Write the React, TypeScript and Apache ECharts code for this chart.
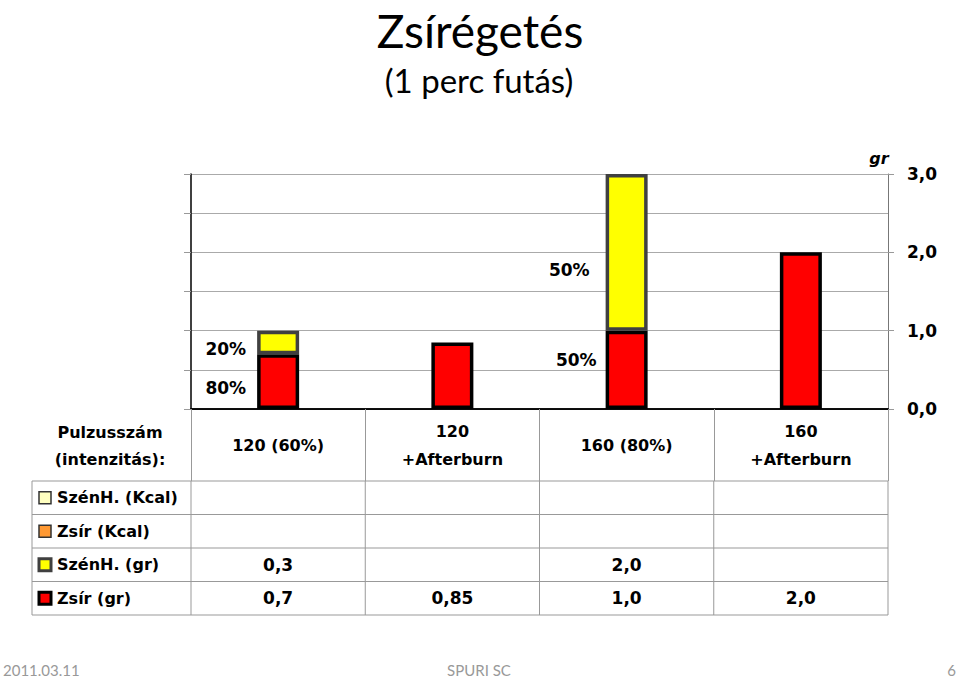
import React, { useEffect, useRef } from 'react';
import * as echarts from 'echarts';

const categories = ['120 (60%)', '120\n+Afterburn', '160 (80%)', '160\n+Afterburn'];
const carbKcal: (number | null)[] = [null, null, null, null];
const fatKcal: (number | null)[] = [null, null, null, null];
const carbGr: (number | null)[] = [0.3, null, 2.0, null];
const fatGr: (number | null)[] = [0.7, 0.85, 1.0, 2.0];
const rowLabels = ['SzénH. (Kcal)', 'Zsír (Kcal)', 'SzénH. (gr)', 'Zsír (gr)'];
const yMin = 0;
const yMax = 3;
const annotations = [
  { cat: 0, value: 0.77, text: '20%', dx: -32 },
  { cat: 0, value: 0.27, text: '80%', dx: -32 },
  { cat: 2, value: 1.78, text: '50%', dx: -37 },
  { cat: 2, value: 0.63, text: '50%', dx: -30 },
];

const FONT = '"DejaVu Sans", sans-serif';
const fmt = (v: number | null) => {
  if (v === null || v === undefined) return '';
  const s = Number.isInteger(v * 10) ? v.toFixed(1) : String(v);
  return s.replace('.', ',');
};

export default function App() {
  const ref = useRef<HTMLDivElement>(null);
  useEffect(() => {
    const chart = echarts.init(ref.current!, undefined, { renderer: 'svg' });
    const gridLeft = 191;
    const gridRight = 888;
    const gridTop = 174;
    const gridBottom = 409;
    const option: any = {
      animation: false,
      grid: { left: gridLeft, right: 959 - gridRight, top: gridTop, bottom: 678 - gridBottom, containLabel: false },
      xAxis: [
        {
          type: 'category',
          data: categories,
          position: 'bottom',
          axisLine: { show: true, lineStyle: { color: '#000', width: 1.5 } },
          axisTick: { show: true, interval: 0, length: 72, lineStyle: { color: '#999', width: 1 } },
          axisLabel: {
            interval: 0,
            margin: 36,
            verticalAlign: 'middle',
            color: '#000',
            fontFamily: FONT,
            fontWeight: 'bold',
            fontSize: 16,
            lineHeight: 28,
          },
        },
        {
          type: 'category',
          data: categories,
          position: 'top',
          axisLine: { show: true, lineStyle: { color: '#000', width: 1.5 } },
          axisTick: { show: false },
          axisLabel: { show: false },
        },
      ],
      yAxis: [
        {
          type: 'value',
          position: 'right',
          min: yMin,
          max: yMax,
          interval: 1,
          axisLine: { show: true, lineStyle: { color: '#777', width: 1 } },
          axisTick: { show: true, length: 6, lineStyle: { color: '#999' } },
          axisLabel: {
            margin: 19,
            color: '#000',
            fontFamily: FONT,
            fontWeight: 'bold',
            fontSize: 17,
            formatter: (v: number) => fmt(v),
          },
          splitLine: { show: true, lineStyle: { color: '#aaa', width: 1 } },
          minorTick: { show: false, splitNumber: 2 },
          minorSplitLine: { show: true, lineStyle: { color: '#aaa', width: 1 } },
        },
        {
          type: 'value',
          position: 'left',
          min: yMin,
          max: yMax,
          interval: 0.5,
          axisLine: { show: true, lineStyle: { color: '#000', width: 1.5 } },
          axisTick: { show: true, length: 7, lineStyle: { color: '#999' } },
          axisLabel: { show: false },
          splitLine: { show: false },
        },
      ],
      series: [
        { name: 'Zsír (gr)', type: 'bar', stack: 'g', data: fatGr, barWidth: 42,
          itemStyle: { color: '#FF0000', borderColor: '#000', borderWidth: 3.5 } },
        { name: 'SzénH. (gr)', type: 'bar', stack: 'g', data: carbGr, barWidth: 42,
          itemStyle: { color: '#FFFF00', borderColor: '#404040', borderWidth: 3.5 } },
        { name: 'Zsír (Kcal)', type: 'bar', stack: 'g', data: fatKcal, barWidth: 42,
          itemStyle: { color: '#FF9933' } },
        { name: 'SzénH. (Kcal)', type: 'bar', stack: 'g', data: carbKcal, barWidth: 42,
          itemStyle: { color: '#FFFFC0' } },
      ],
    };
    chart.setOption(option);

    const colX = (i: number) => chart.convertToPixel({ xAxisIndex: 0 }, i) as number;
    const yPx = (v: number) => chart.convertToPixel({ yAxisIndex: 0 }, v) as number;
    const catW = (gridRight - gridLeft) / categories.length;
    const rowYs = [481, 514.5, 548, 581.5, 615];
    const tableLeft = 32;
    const g: any[] = [];
    const line = (x1: number, y1: number, x2: number, y2: number) => ({
      type: 'line', shape: { x1, y1, x2, y2 }, style: { stroke: '#999', lineWidth: 1 }, silent: true,
    });
    rowYs.forEach((y) => g.push(line(tableLeft, y, gridRight, y)));
    g.push(line(tableLeft, rowYs[0], tableLeft, rowYs[4]));
    for (let i = 0; i <= categories.length; i++) {
      const x = gridLeft + i * catW;
      g.push(line(x, rowYs[0], x, rowYs[4]));
    }
    const squares = [
      { fill: '#FFFFC0', stroke: '#333', lw: 1.5 },
      { fill: '#FF9933', stroke: '#333', lw: 1.5 },
      { fill: '#FFFF00', stroke: '#404040', lw: 3 },
      { fill: '#FF0000', stroke: '#000', lw: 3 },
    ];
    const rows = [carbKcal, fatKcal, carbGr, fatGr];
    rowLabels.forEach((lab, r) => {
      const cy = (rowYs[r] + rowYs[r + 1]) / 2;
      const sq = squares[r];
      g.push({ type: 'rect', shape: { x: 39, y: cy - 6, width: 12, height: 12 },
        style: { fill: sq.fill, stroke: sq.stroke, lineWidth: sq.lw } });
      g.push({ type: 'text', x: 57, y: cy, style: { text: lab, fill: '#000', font: `bold 16px ${FONT}`,
        textAlign: 'left', textVerticalAlign: 'middle' } });
      rows[r].forEach((v, c) => {
        const t = fmt(v);
        if (!t) return;
        g.push({ type: 'text', x: colX(c), y: cy, style: { text: t, fill: '#000', font: `bold 17px ${FONT}`,
          textAlign: 'center', textVerticalAlign: 'middle' } });
      });
    });
    g.push({ type: 'text', x: 110, y: 446, style: { text: 'Pulzusszám\n(intenzitás):', fill: '#000',
      font: `bold 16px ${FONT}`, lineHeight: 27, textAlign: 'center', textVerticalAlign: 'middle' } });
    annotations.forEach((a) => {
      g.push({ type: 'text', x: colX(a.cat) + a.dx, y: yPx(a.value), style: { text: a.text, fill: '#000',
        font: `bold 17px ${FONT}`, textAlign: 'right', textVerticalAlign: 'middle' } });
    });
    g.push({ type: 'text', x: 879, y: 158, style: { text: 'gr', fill: '#000', font: `italic bold 16px ${FONT}`,
      textAlign: 'center', textVerticalAlign: 'middle' } });
    g.push({ type: 'text', x: 480, y: 30, style: { text: 'Zsírégetés', fill: '#000', font: `46px Lato, sans-serif`,
      textAlign: 'center', textVerticalAlign: 'middle' } });
    g.push({ type: 'text', x: 479, y: 80, style: { text: '(1 perc futás)', fill: '#000', font: `33px Lato, sans-serif`,
      textAlign: 'center', textVerticalAlign: 'middle' } });
    g.push({ type: 'text', x: 3, y: 670, style: { text: '2011.03.11', fill: '#999', font: `15px Lato, sans-serif`,
      textAlign: 'left', textVerticalAlign: 'middle' } });
    g.push({ type: 'text', x: 479, y: 670, style: { text: 'SPURI SC', fill: '#999', font: `15px Lato, sans-serif`,
      textAlign: 'center', textVerticalAlign: 'middle' } });
    g.push({ type: 'text', x: 956, y: 670, style: { text: '6', fill: '#999', font: `15px Lato, sans-serif`,
      textAlign: 'right', textVerticalAlign: 'middle' } });
    chart.setOption({ graphic: { elements: g } });
    return () => chart.dispose();
  }, []);
  return <div ref={ref} style={{ position: 'fixed', left: 0, top: 0, width: 959, height: 678, background: '#fff' }} />;
}
